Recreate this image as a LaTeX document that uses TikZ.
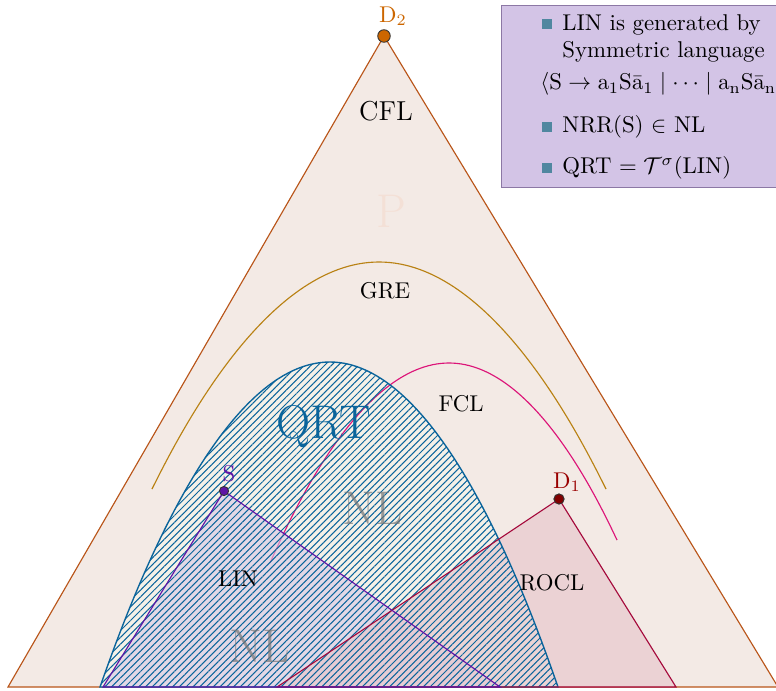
\documentclass[tikz,border=0pt]{standalone}
\usepackage{amsmath}
\usepackage{amssymb}
\usetikzlibrary{calc,patterns,patterns.meta}

\definecolor{cflline}{RGB}{185,85,25}
\definecolor{cflfill}{RGB}{243,234,229}
\definecolor{dtwo}{RGB}{204,102,0}
\definecolor{gregold}{RGB}{185,130,20}
\definecolor{fclpink}{RGB}{220,20,120}
\definecolor{qrtblue}{RGB}{10,100,155}
\definecolor{qrtfill}{RGB}{245,241,232}
\definecolor{spurple}{RGB}{95,20,165}
\definecolor{sfill}{RGB}{215,200,230}
\definecolor{done}{RGB}{165,10,60}
\definecolor{donefill}{RGB}{232,200,205}
\definecolor{boxfill}{RGB}{211,196,230}
\definecolor{boxline}{RGB}{140,120,165}
\definecolor{bul}{RGB}{80,135,160}

\tikzset{
  dot/.style={circle, draw=black!80, inner sep=0pt, minimum size=#1},
  dot/.default=4.5pt,
  bigtxt/.style={font=\huge},
  bulsq/.style={fill=bul, inner sep=0pt, minimum size=4pt},
}

\begin{document}
\begin{tikzpicture}[x=0.154mm,y=-0.154mm]
\clip (0,0) rectangle (776,690);
% corner points
\coordinate (L) at (8,687);
\coordinate (R) at (778,687);
\coordinate (d2) at (384,36);
\coordinate (s) at (224,491);
\coordinate (d1) at (559,499);
\coordinate (sl) at (103,687);
\coordinate (sr) at (500,687);
\coordinate (dl) at (277,687);
\coordinate (dr) at (676,687);
% CFL triangle
\draw[cflline, fill=cflfill, line width=0.5pt] (L) -- (d2) -- (R) -- cycle;
% GRE and FCL curves
\draw[gregold, line width=0.5pt] (152,489) parabola bend (379,262) (606,489);
% QRT region (background)
\fill[qrtfill] (100,687) parabola bend (330,362) (558,687) -- cycle;
\draw[fclpink, line width=0.5pt] (270,563) parabola bend (449,363) (617,540);
% LIN and ROCL fills
\fill[sfill, fill opacity=0.6] (sl) -- (s) -- (sr) -- cycle;
\fill[donefill, fill opacity=0.7] (dl) -- (d1) -- (dr) -- cycle;
% QRT hatching
\draw[qrtblue, line width=0.6pt, pattern={Lines[angle=45,distance=2.1pt,line width=0.45pt]}, pattern color=qrtblue]
  (100,687) parabola bend (330,362) (558,687) -- cycle;
% LIN and ROCL edges
\draw[done, line width=0.5pt] (dl) -- (d1) -- (dr) -- cycle;
\draw[spurple, line width=0.5pt] (sl) -- (s) -- (sr) -- cycle;
% points
\node[dot=5.5pt, fill=dtwo] (D2) at (d2) {};
\node[dot=4pt, fill=spurple] (S) at (s) {};
\node[dot=4.5pt, fill=black!50!red] (D1) at (d1) {};
\node[text=dtwo] (D2lab) at (393,16) {D$_2$};
\node[text=spurple] (Slab) at (229,474) {S};
\node[text=black!40!red] (D1lab) at (567,482) {D$_1$};
% labels
\node[font=\large] (cfl) at (386,111) {CFL};
\node[bigtxt, text=cflline!18] (p) at (391,211) {P};
\node (gre) at (385,291) {GRE};
\node (fcl) at (461,404) {FCL};
\node[bigtxt, text=qrtblue] (qrt) at (324,427) {QRT};
\node[bigtxt, text=black!55, text opacity=0.7] (nl1) at (373,508) {NL};
\node (lin) at (238,579) {LIN};
\node (rocl) at (552,583) {ROCL};
\node[bigtxt, text=black!55, text opacity=0.7] (nl2) at (260,646) {NL};
% facts box
\draw[boxline, fill=boxfill] (501,5) rectangle (800,187);
\node[bulsq] (b1) at (547,24) {};
\node[anchor=north west, align=left, inner sep=0pt] (t1) at (562,14) {LIN is generated by\\Symmetric language};
\node[anchor=west, inner sep=0pt] (t2) at (540,84)
  {$\langle\mathrm{S}\rightarrow\mathrm{a_1S\bar{a}_1}\mid\cdots\mid\mathrm{a_nS\bar{a}_n}\rangle$};
\node[bulsq] (b3) at (547,127) {};
\node[anchor=west, inner sep=0pt] (t3) at (562,127) {NRR(S) $\in$ NL};
\node[bulsq] (b4) at (547,168) {};
\node[anchor=west, inner sep=0pt] (t4) at (562,168) {QRT $=\mathcal{T}^{\sigma}(\mathrm{LIN})$};
\end{tikzpicture}
\end{document}
